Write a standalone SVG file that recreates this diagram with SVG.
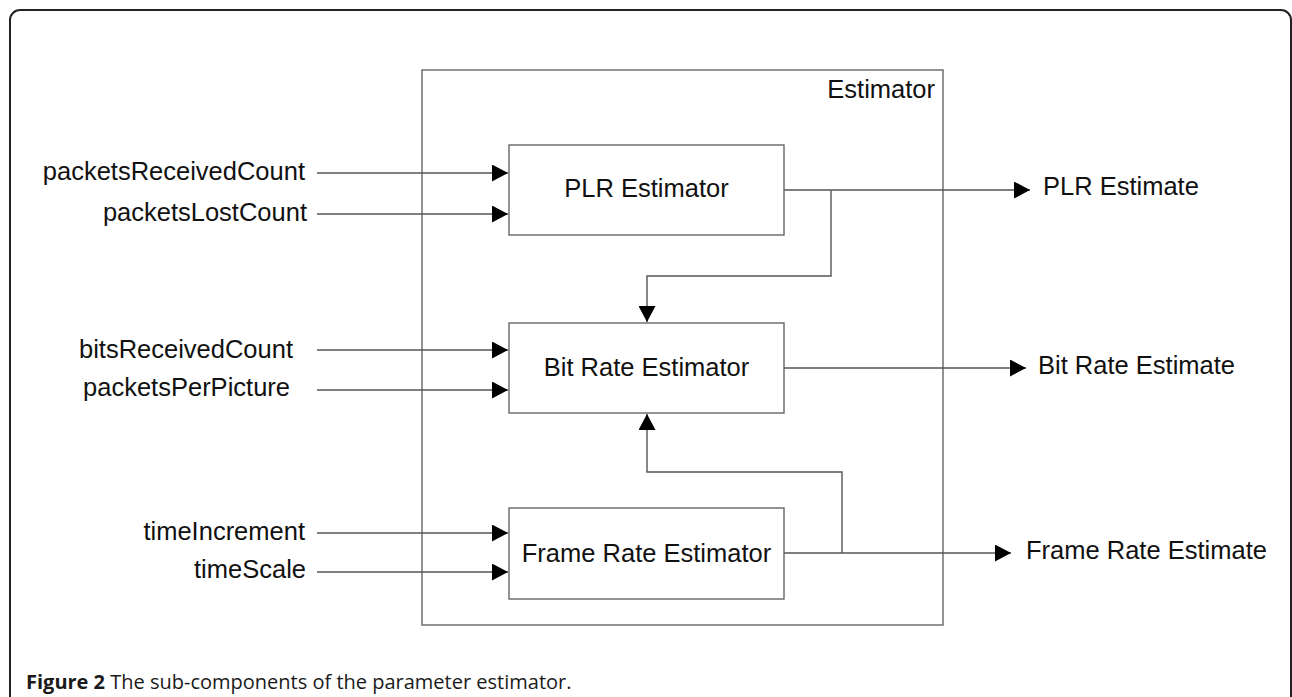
<svg xmlns="http://www.w3.org/2000/svg" width="1292" height="697" viewBox="0 0 1292 697">
  <style>
    .frame { fill: none; stroke: #222; stroke-width: 2; }
    .box { fill: #fff; stroke: #666; stroke-width: 1.4; }
    .wire { fill: none; stroke: #555; stroke-width: 1.4; }
    .lbl { font-family: "Liberation Sans", Arial, sans-serif; font-size: 25.5px; fill: #111; }
    .in { text-anchor: end; }
    .mid { text-anchor: middle; }
    .cap { font-family: "Open Sans", "Noto Sans", sans-serif; font-size: 20px; fill: #1a1a1a; }
  </style>
  <defs>
    <marker id="arrow" markerWidth="16" markerHeight="17" refX="16" refY="8.5" orient="auto" markerUnits="userSpaceOnUse">
      <path d="M0,0 L16,8.5 L0,17 Z" fill="#000"/>
    </marker>
  </defs>

  <rect width="1292" height="697" fill="#fff"/>
  <!-- page frame -->
  <rect class="frame" x="10" y="10" width="1281" height="720" rx="10" ry="10"/>

  <!-- container -->
  <g id="estimator">
    <rect class="box" x="422" y="70" width="521" height="555" fill="none"/>
    <text class="lbl" x="935" y="98" text-anchor="end">Estimator</text>
  </g>

  <!-- connectors -->
  <g id="connectors" class="wire">
    <line x1="317" y1="173" x2="508" y2="173" marker-end="url(#arrow)"/>
    <line x1="317" y1="214" x2="508" y2="214" marker-end="url(#arrow)"/>
    <line x1="317" y1="350" x2="508" y2="350" marker-end="url(#arrow)"/>
    <line x1="317" y1="390" x2="508" y2="390" marker-end="url(#arrow)"/>
    <line x1="317" y1="533" x2="508" y2="533" marker-end="url(#arrow)"/>
    <line x1="317" y1="572" x2="508" y2="572" marker-end="url(#arrow)"/>

    <line x1="784" y1="190" x2="1030" y2="190" marker-end="url(#arrow)"/>
    <polyline points="831,190 831,276 647,276 647,322" marker-end="url(#arrow)"/>
    <line x1="784" y1="368" x2="1026" y2="368" marker-end="url(#arrow)"/>
    <line x1="784" y1="553" x2="1011" y2="553" marker-end="url(#arrow)"/>
    <polyline points="842,553 842,472 647,472 647,414" marker-end="url(#arrow)"/>
  </g>

  <!-- inputs -->
  <g id="inputs">
    <text class="lbl in" x="305" y="180">packetsReceivedCount</text>
    <text class="lbl in" x="307" y="221">packetsLostCount</text>
    <text class="lbl in" x="293" y="358">bitsReceivedCount</text>
    <text class="lbl in" x="290" y="396">packetsPerPicture</text>
    <text class="lbl in" x="305" y="540">timeIncrement</text>
    <text class="lbl in" x="306" y="578">timeScale</text>
  </g>

  <g id="plr-estimator">
    <rect class="box" x="509" y="145" width="275" height="90"/>
    <text class="lbl mid" x="646.5" y="197">PLR Estimator</text>
  </g>
  <g id="bit-rate-estimator">
    <rect class="box" x="509" y="323" width="275" height="90"/>
    <text class="lbl mid" x="646.5" y="376">Bit Rate Estimator</text>
  </g>
  <g id="frame-rate-estimator">
    <rect class="box" x="509" y="508" width="275" height="91"/>
    <text class="lbl mid" x="646.5" y="562">Frame Rate Estimator</text>
  </g>

  <!-- outputs -->
  <g id="outputs">
    <text class="lbl" x="1043" y="195">PLR Estimate</text>
    <text class="lbl" x="1038" y="374">Bit Rate Estimate</text>
    <text class="lbl" x="1026" y="559">Frame Rate Estimate</text>
  </g>

  <text class="cap" x="26" y="689"><tspan font-weight="bold">Figure 2</tspan> The sub-components of the parameter estimator.</text>
</svg>
